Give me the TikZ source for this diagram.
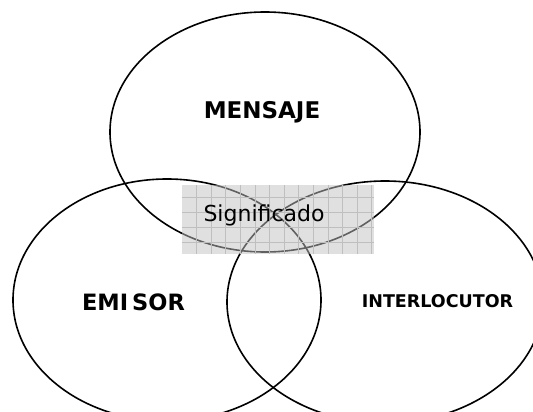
\documentclass[tikz,border=0pt]{standalone}
\usepackage{fontspec}
\setmainfont{DejaVu Sans}
\usetikzlibrary{shapes.geometric}
\tikzset{
  circ/.style={draw=black, line width=1.6pt, ellipse, inner sep=0pt, minimum width=#1},
  lbl/.style={font=\bfseries, text=black, inner sep=0pt},
  sigbox/.style={rectangle, fill=black!24, fill opacity=0.5, draw=none, inner sep=0pt, minimum width=192pt, minimum height=69pt},
  gridline/.style={draw=black!25, line width=0.6pt}
}
\begin{document}
\begin{tikzpicture}[x=1pt, y=-1pt]
\useasboundingbox (0,0) rectangle (533,412);
\fill[white] (0,0) rectangle (533,412);
% ellipses
\node[circ=310pt, minimum height=240pt] (mensaje) at (265,132) {};
\node[circ=308pt, minimum height=242pt] (emisor) at (167,300) {};
\node[circ=316pt, minimum height=242pt] (interl) at (385,302) {};
% significado box
\node[sigbox] (box) at (278,219.5) {};
\begin{scope}
\clip (box.south west) rectangle (box.north east);
\foreach \i in {1,...,13} {
  \draw[gridline] ([xshift=\i*14.6pt]box.north west) -- ([xshift=\i*14.6pt]box.south west);
}
\foreach \j in {1,...,4} {
  \draw[gridline] ([yshift=-\j*15pt+3pt]box.north west) -- ([yshift=-\j*15pt+3pt]box.north east);
}
\end{scope}
% labels
\node[lbl, font=\fontsize{23}{26}\selectfont\bfseries] (tm) at (262,112.5) {MENSAJE};
\node[lbl, font=\fontsize{22.5}{26}\selectfont\bfseries] (te) at (133.5,302.5) {EMI\hspace{4pt}SOR};
\node[lbl, font=\fontsize{17.5}{20}\selectfont\bfseries] (ti) at (437.5,301) {INTERLOCUTOR};
\node[inner sep=0pt, font=\fontsize{22}{26}\selectfont] (ts) at (264,215.5) {Significado};
\end{tikzpicture}
\end{document}
